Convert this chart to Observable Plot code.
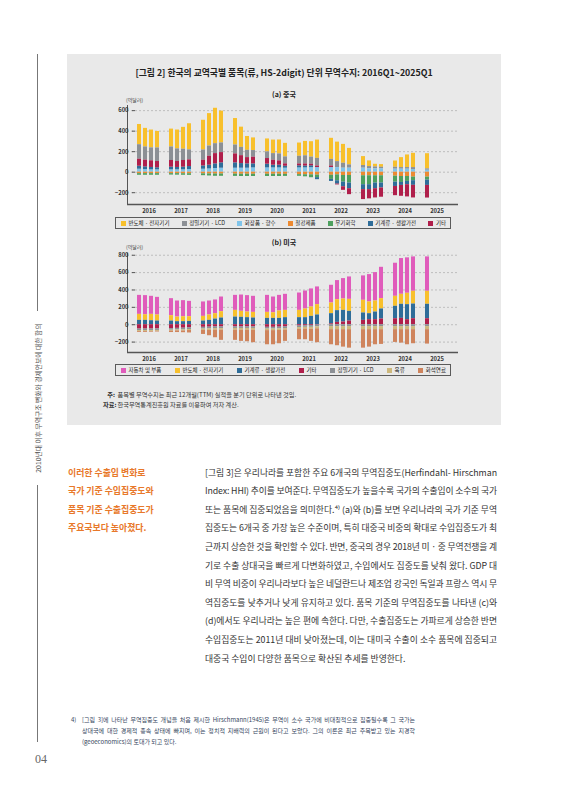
<!DOCTYPE html>
<html><head><meta charset="utf-8">
<script src="https://cdn.jsdelivr.net/npm/d3@7"></script>
<script src="https://cdn.jsdelivr.net/npm/@observablehq/plot@0.6"></script>
<style>
body{margin:0;background:#fff;}
#page{position:relative;width:566px;height:800px;overflow:hidden;font-family:"Noto Sans CJK KR","Noto Sans",sans-serif;color:#333;}
.abs{position:absolute;}
.abs svg{position:absolute;left:0;top:0;}
.vline{position:absolute;width:1px;background:#777;}
.vtext{position:absolute;width:200px;left:-62px;top:393px;height:10px;line-height:10px;font-size:6.8px;color:#555;text-align:center;transform:rotate(-90deg);white-space:nowrap;}
#box{position:absolute;left:67px;top:54px;width:434px;height:371px;background:#e9e9e9;}
.title{position:absolute;left:0;width:100%;text-align:center;white-space:nowrap;}
.unit{position:absolute;font-size:5px;line-height:8px;color:#444;white-space:nowrap;}
.legend{position:absolute;box-sizing:border-box;border:1px solid #5a5a5a;display:flex;justify-content:space-between;align-items:center;padding:0 4px 0 5px;font-size:5.5px;color:#222;white-space:nowrap;}
.legend span{display:flex;align-items:center;}
.legend i{display:inline-block;width:5px;height:5px;margin-right:2.5px;}
.note{position:absolute;font-size:6.2px;line-height:9px;color:#333;white-space:nowrap;}
.note b{display:inline-block;width:12px;text-align:right;font-weight:700;margin-right:2.5px;}
.head{position:absolute;left:68px;font-size:8.9px;font-weight:700;color:#e8782a;line-height:18.6px;white-space:nowrap;}
.body{position:absolute;left:205px;width:292px;font-size:8.8px;line-height:18.6px;color:#333;}
.ln{width:100%;white-space:nowrap;text-align:justify;text-align-last:justify;height:18.6px;}
.fn{position:absolute;left:82px;width:333px;font-size:6px;line-height:11.2px;color:#34445c;}
.fn .ln{height:11.2px;}
.last{text-align-last:left !important;}
</style></head><body>
<div id="page">
  <div class="vline" style="left:37px;top:54px;height:257px"></div>
  <div class="vtext">2010년대 이후 무역구조 변화와 경제안보에 대한 함의</div>
  <div class="vline" style="left:37px;top:485px;height:257px"></div>

  <div id="box">
    <div class="title" style="top:13px;font-size:8.8px;line-height:12px;font-weight:700;color:#222">[그림 2] 한국의 교역국별 품목(류, HS-2digit) 단위 무역수지: 2016Q1~2025Q1</div>
    <div class="title" style="top:35px;font-size:7px;line-height:10px;font-weight:600;color:#222">(a) 중국</div>
    <div id="chartA" class="abs" style="left:0;top:44px;width:434px;height:118px"></div>
    <div class="unit" style="left:59px;top:42px">(억달러)</div>
    <div id="legA" class="legend" style="left:48px;top:163px;width:336px;height:12px"></div>
    <div class="title" style="top:183px;font-size:7px;line-height:10px;font-weight:600;color:#222">(b) 미국</div>
    <div id="chartB" class="abs" style="left:0;top:192px;width:434px;height:118px"></div>
    <div class="unit" style="left:59px;top:189px">(억달러)</div>
    <div id="legB" class="legend" style="left:48px;top:310px;width:336px;height:12px"></div>
    <div class="note" style="left:36px;top:335.5px"><b>주:</b>품목별 무역수지는 최근 12개월(TTM) 실적을 분기 단위로 나타낸 것임.</div>
    <div class="note" style="left:36px;top:345.5px"><b>자료:</b>한국무역통계진흥원 자료를 이용하여 저자 계산.</div>
  </div>

  <div class="head" style="top:463.7px">이러한 수출입 변화로<br>국가 기준 수입집중도와<br>품목 기준 수출집중도가<br>주요국보다 높아졌다.</div>

  <div class="body" style="top:463.7px" id="bodyText"></div>

  <div class="abs" style="left:71px;top:713.7px;font-size:6px;line-height:11.2px;color:#34445c">4)</div>
  <div class="fn" style="top:713.7px" id="fnText"></div>

  <div class="abs" style="left:35px;top:752px;font-family:'Liberation Serif','DejaVu Serif',serif;font-size:12px;line-height:14px;color:#666">04</div>
</div>

<script>
// ---------- data ----------
const years = ["2016","2017","2018","2019","2020","2021","2022","2023","2024","2025"];
const quarters = ["Q1","Q2","Q3","Q4"];
const periods = years.flatMap(y => y === "2025" ? [y + "Q1"] : quarters.map(q => y + q));

// (a) China, 억달러
const cnLabels = ["반도체 · 전자기기","정밀기기 · LCD","화장품 · 향수","철강제품","무기화학","기계류 · 생활가전","기타"];
const cnColors = ["#f8c02c","#8c9095","#80c4ea","#ed8a31","#4ea05f","#2f6d99","#b01f4b"];
const cnStackOrder = ["화장품 · 향수","철강제품","무기화학","기계류 · 생활가전","기타","정밀기기 · LCD","반도체 · 전자기기"];
const cnSemi  = [197,181,174,161, 174,184,213,255, 290,316,345,310, 258,197,135,123, 126,132,136,132, 129,140,150,178, 205,190,184,161, 87,55,26,26, 61,97,123,139, 148];
const cnPrec  = [142,129,126,132, 132,123,110,97, 100,100,97,94, 87,81,71,65, 65,65,68,68, 75,80,70,75, 65,58,48,32, 26,23,19,16, 19,16,16,19, 13];
const cnCosm  = [29,26,23,23, 23,23,23,26, 29,32,36,39, 39,39,39,42, 42,42,42,39, 42,42,44,45, 45,45,39,39, 39,32,32,32, 29,29,29,26, 19];
const cnSteel = [-14,-14,-14,-14, -14,-14,-15,-15, -16,-17,-18,-18, -19,-20,-20,-20, -20,-20,-20,-21, -24,-25,-26,-28, -30,-26,-32,-32, -35,-35,-35,-35, -39,-42,-42,-48, -48];
const cnChem  = [-16,-16,-16,-16, -14,-15,-15,-16, -18,-20,-22,-22, -22,-22,-22,-22, -22,-22,-22,-20, -16,-20,-28,-25, -40,-58,-65,-74, -87,-87,-71,-71, -58,-58,-48,-35, -29];
const cnMach  = [29,26,23,20, 26,23,26,29, 32,36,45,52, 52,45,42,39, 36,26,26,19, 20,18,18,-20, -20,-32,-45,-55, -48,-48,-55,-48, -42,-29,-32,-45, -52];
const cnEtc   = [68,65,65,61, 65,58,65,65, 55,87,100,100, 87,77,61,65, 55,48,42,23, 18,20,15,15, 15,-8,-35,-58, -97,-90,-90,-90, -90,-106,-119,-123, -123];
const cnTicks = [-200,0,200,400,600];
const cnDomain = [-315,650];

// (b) United States, 억달러
const usLabels = ["자동차 및 부품","반도체 · 전자기기","기계류 · 생활가전","기타","정밀기기 · LCD","육류","화석연료"];
const usColors = ["#e05cbb","#f8c02c","#2f6d99","#b01f4b","#8c9095","#cdb87c","#cf845d"];
const usStackOrder = ["기타","정밀기기 · LCD","육류","화석연료","기계류 · 생활가전","반도체 · 전자기기","자동차 및 부품"];
const usAuto = [219,220,208,203, 196,185,185,177, 166,161,158,169, 173,188,189,185, 196,181,180,185, 200,207,208,204, 204,220,235,258, 281,315,327,361, 381,412,408,396, 396];
const usSemi = [69,65,73,70, 62,53,57,54, 54,62,62,73, 77,69,65,65, 69,65,85,84, 84,100,108,119, 123,126,131,138, 146,135,127,119, 115,115,131,147, 150];
const usMach = [50,50,46,42, 42,35,35,38, 42,50,65,77, 88,85,81,77, 73,73,73,81, 81,81,96,112, 117,135,134,112, 85,69,88,116, 143,162,173,169, 166];
const usEtc  = [-50,-50,-50,-48, -45,-42,-40,-35, -30,-28,-25,-25, -25,-25,-25,-25, -30,-30,-28,-25, -15,-12,-10,-5, 10,27,31,42, 50,58,58,65, 69,73,58,69, 69];
const usPrec = [-18,-18,-18,-18, -18,-18,-20,-20, -20,-20,-20,-20, -18,-18,-18,-18, -20,-20,-20,-20, -18,-18,-20,-20, -22,-22,-22,-22, -22,-22,-22,-22, -22,-22,-22,-22, -22];
const usMeat = [-10,-10,-10,-10, -10,-11,-12,-12, -15,-17,-18,-18, -20,-20,-20,-20, -18,-18,-18,-18, -20,-20,-22,-22, -35,-35,-35,-35, -35,-35,-35,-35, -35,-35,-35,-35, -35];
const usFuel = [-10,-10,-8,-8, -17,-19,-20,-28, -47,-62,-87,-117, -117,-129,-133,-144, -163,-163,-153,-129, -120,-123,-140,-160, -174,-185,-201,-213, -213,-201,-174,-170, -147,-155,-174,-162, -166];
const usTicks = [-200,0,200,400,600,800];
const usDomain = [-320,820];

// ---------- chart ----------
const dims = {width: 434, height: 118, marginLeft: 60, marginRight: 43, marginTop: 7, marginBottom: 12};
const svgStyle = {background: "transparent", fontFamily: "'Noto Sans CJK KR', sans-serif", fontSize: "5.8px", color: "#333", overflow: "visible"};

function makeRows(labels, values) {
  const rows = [];
  labels.forEach((s, i) => values[i].forEach((v, j) => {
    const p = periods[j];
    rows.push({series: s, year: p.slice(0, 4), q: p.slice(4), value: v});
  }));
  return rows;
}

// unfaceted layer: dashed grid, bottom axis line, left axis line
function makeGrid(domain, ticks) {
  return Plot.plot({
    ...dims, style: svgStyle,
    y: {domain, axis: null},
    marks: [
      Plot.ruleY(ticks, {stroke: "#b3b3b3", strokeWidth: 0.8, strokeDasharray: "2,2"}),
      Plot.ruleY([domain[0]], {stroke: "#555", strokeWidth: 1.4}),
      Plot.frame({anchor: "left", stroke: "#555", strokeWidth: 1})
    ]
  });
}

// faceted layer: bars per year, quarters within
function makeBars(labels, colors, values, order, domain, ticks) {
  const rows = makeRows(labels, values);
  return Plot.plot({
    ...dims, style: svgStyle,
    fx: {domain: years, paddingInner: 0.17, paddingOuter: 0.17, label: null},
    x: {domain: quarters, paddingInner: 0.3, paddingOuter: 0.15, axis: null},
    y: {domain, label: null},
    color: {domain: labels, range: colors},
    marks: [
      Plot.barY(rows, Plot.stackY({order}, {fx: "year", x: "q", y: "value", fill: "series"})),
      Plot.axisY(ticks, {tickSize: 3, tickPadding: 4, stroke: "#555", fontWeight: 700, label: null}),
      Plot.axisFx({anchor: "bottom", tickSize: 0, tickPadding: 4, fontWeight: 700, label: null})
    ]
  });
}

document.getElementById("chartA").append(
  makeGrid(cnDomain, cnTicks),
  makeBars(cnLabels, cnColors, [cnSemi, cnPrec, cnCosm, cnSteel, cnChem, cnMach, cnEtc], cnStackOrder, cnDomain, cnTicks));
document.getElementById("chartB").append(
  makeGrid(usDomain, usTicks),
  makeBars(usLabels, usColors, [usAuto, usSemi, usMach, usEtc, usPrec, usMeat, usFuel], usStackOrder, usDomain, usTicks));

function legend(id, labels, colors) {
  const el = document.getElementById(id);
  labels.forEach((l, i) => {
    const s = document.createElement("span");
    const sw = document.createElement("i");
    sw.style.background = colors[i];
    s.append(sw, document.createTextNode(l));
    el.append(s);
  });
}
legend("legA", cnLabels, cnColors);
legend("legB", usLabels, usColors);

// ---------- body text ----------
const bodyLines = [
  "[그림 3]은 우리나라를 포함한 주요 6개국의 무역집중도(Herfindahl- Hirschman",
  "Index: HHI) 추이를 보여준다. 무역집중도가 높을수록 국가의 수출입이 소수의 국가",
  "또는 품목에 집중되었음을 의미한다.⁴⁾ (a)와 (b)를 보면 우리나라의 국가 기준 무역",
  "집중도는 6개국 중 가장 높은 수준이며, 특히 대중국 비중의 확대로 수입집중도가 최",
  "근까지 상승한 것을 확인할 수 있다. 반면, 중국의 경우 2018년 미 · 중 무역전쟁을 계",
  "기로 수출 상대국을 빠르게 다변화하였고, 수입에서도 집중도를 낮춰 왔다. GDP 대",
  "비 무역 비중이 우리나라보다 높은 네덜란드나 제조업 강국인 독일과 프랑스 역시 무",
  "역집중도를 낮추거나 낮게 유지하고 있다. 품목 기준의 무역집중도를 나타낸 (c)와",
  "(d)에서도 우리나라는 높은 편에 속한다. 다만, 수출집중도는 가파르게 상승한 반면",
  "수입집중도는 2011년 대비 낮아졌는데, 이는 대미국 수출이 소수 품목에 집중되고",
  "대중국 수입이 다양한 품목으로 확산된 추세를 반영한다."
];
const fnLines = [
  "[그림 3]에 나타난 무역집중도 개념을 처음 제시한 Hirschmann(1945)은 무역이 소수 국가에 비대칭적으로 집중될수록 그 국가는",
  "상대국에 대한 경제적 종속 상태에 빠지며, 이는 정치적 지배력의 근원이 된다고 보았다. 그의 이론은 최근 주목받고 있는 지경학",
  "(geoeconomics)의 토대가 되고 있다."
];
function fill(id, lines, target) {
  const el = document.getElementById(id);
  lines.forEach((t, i) => {
    const d = document.createElement("div");
    d.className = "ln";
    const s = document.createElement("span");
    s.textContent = t;
    d.append(s);
    el.append(d);
    const last = i === lines.length - 1;
    d.style.textAlignLast = "left";
    const w = s.getBoundingClientRect().width;
    if (w > target) d.style.letterSpacing = ((target - w) / t.length) + "px";
    if (last) d.classList.add("last"); else d.style.textAlignLast = "justify";
  });
}
fill("bodyText", bodyLines, 292);
fill("fnText", fnLines, 333);
</script>
</body></html>
